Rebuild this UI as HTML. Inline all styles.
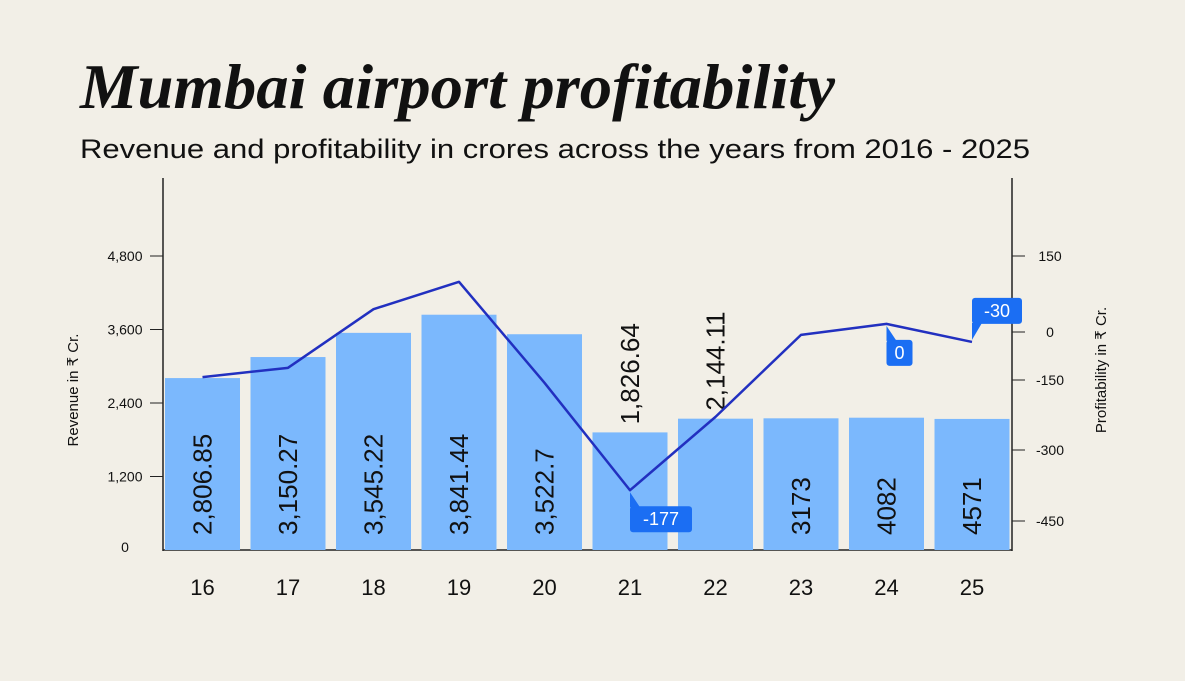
<!DOCTYPE html>
<html><head><meta charset="utf-8"><style>
body{margin:0;background:#f2efe7;width:1185px;height:676px;overflow:hidden;font-family:"Liberation Sans",sans-serif}
</style></head><body>
<svg width="1185" height="676" xmlns="http://www.w3.org/2000/svg">
<rect width="1185" height="676" fill="#f2efe7"/>
<text x="80" y="108" font-family="Liberation Serif,serif" font-style="italic" font-weight="bold" font-size="64" fill="#111" textLength="755" lengthAdjust="spacingAndGlyphs">Mumbai airport profitability</text>
<text x="80" y="158" font-size="27" fill="#111" textLength="950" lengthAdjust="spacingAndGlyphs">Revenue and profitability in crores across the years from 2016 - 2025</text>
<g id="g"></g>
</svg>
<script>
const years=["16","17","18","19","20","21","22","23","24","25"];
const revenue=[2806.85,3150.27,3545.22,3841.44,3522.7,1920,2144.11,2150,2160,2140];
const revLabels=["2,806.85","3,150.27","3,545.22","3,841.44","3,522.7","1,826.64","2,144.11","3173","4082","4571"];
const profit=[-141,-112,45,99,-156,-385,-229,-9,16,-31];
const leftTicks=[0,1200,2400,3600,4800];
const leftTickLabels=["0","1,200","2,400","3,600","4,800"];
const rightTicks=[-450,-300,-150,0,150];
const rightTickLabels=["-450","-300","-150","0","150"];
const callouts=[{i:5,text:"-177",dir:"below"},{i:8,text:"0",dir:"below"},{i:9,text:"-30",dir:"above"}];

const NS="http://www.w3.org/2000/svg",g=document.getElementById("g");
function mk(t,a,txt){const e=document.createElementNS(NS,t);for(const k in a)e.setAttribute(k,a[k]);if(txt!=null)e.textContent=txt;g.appendChild(e);return e;}
const base=550,x0=165,band=85.5,bw=75;
const yL=v=>base-v*0.06125;
const rD=[-450,-300,-150,0,150],rR=[521,450,380,332,256];
function yR(v){let i=0;while(i<rD.length-2&&v>rD[i+1])i++;return rR[i]+(v-rD[i])/(rD[i+1]-rD[i])*(rR[i+1]-rR[i]);}
const xC=i=>x0+i*band+bw/2;

let e;
e=mk("line",{x1:163,y1:178,x2:163,y2:551,stroke:"#222","stroke-width":1.5});

e=mk("line",{x1:1012,y1:178,x2:1012,y2:551,stroke:"#222","stroke-width":1.5});

e=mk("line",{x1:163,y1:550,x2:1012,y2:550,stroke:"#222","stroke-width":1.5});

leftTicks.forEach((v,i)=>{
 if(v>0){e=mk("line",{x1:150,y1:yL(v),x2:163,y2:yL(v),stroke:"#222"});
 }
 e=mk("text",{x:125,y:yL(v)+(v===0?2:5),"font-size":14,"text-anchor":"middle",fill:"#111"},leftTickLabels[i]);
 
});
rightTicks.forEach((v,i)=>{
 e=mk("line",{x1:1012,y1:yR(v),x2:1025,y2:yR(v),stroke:"#222"});
 
 e=mk("text",{x:1050,y:yR(v)+5,"font-size":14,"text-anchor":"middle",fill:"#111"},rightTickLabels[i]);
 
});
e=mk("text",{transform:"translate(78,390) rotate(-90)","font-size":15,"text-anchor":"middle",fill:"#111"},"Revenue in ₹ Cr.");

e=mk("text",{transform:"translate(1106,370) rotate(-90)","font-size":15,"text-anchor":"middle",fill:"#111"},"Profitability in ₹ Cr.");


revenue.forEach((v,i)=>{
 const x=x0+i*band,y=yL(v);
 e=mk("rect",{x:x,y:y,width:bw,height:base-y,fill:"#7bb8fd"});
 
 const outside=(i===5||i===6);
 const ly=outside?y-8:535;
 e=mk("text",{transform:`translate(${xC(i)+9},${ly}) rotate(-90)`,"font-size":26,fill:"#111"},revLabels[i]);
 
 e=mk("text",{x:xC(i),y:595,"font-size":22,"text-anchor":"middle",fill:"#111"},years[i]);
 
});
const pts=profit.map((v,i)=>xC(i)+","+yR(v)).join(" ");
e=mk("polyline",{points:pts,fill:"none",stroke:"#2230c0","stroke-width":2.5,"stroke-linejoin":"round"});

callouts.forEach(c=>{
 const px=xC(c.i),py=yR(profit[c.i]);
 const w=c.text.length*12+14,h=26;
 let bx=px,by=c.dir==="below"?py+16:py-44;
 e=mk("rect",{x:bx,y:by,width:w,height:h,rx:3,fill:"#1b6ef3"});
 
 const tri=c.dir==="below"?`${px},${py+2} ${px},${by+1} ${px+10},${by+1}`:`${px},${py-2} ${px},${by+h-1} ${px+10},${by+h-1}`;
 e=mk("polygon",{points:tri,fill:"#1b6ef3"});
 
 e=mk("text",{x:bx+w/2,y:by+19,"font-size":18,"text-anchor":"middle",fill:"#fff"},c.text);
 
});
</script>
</body></html>
